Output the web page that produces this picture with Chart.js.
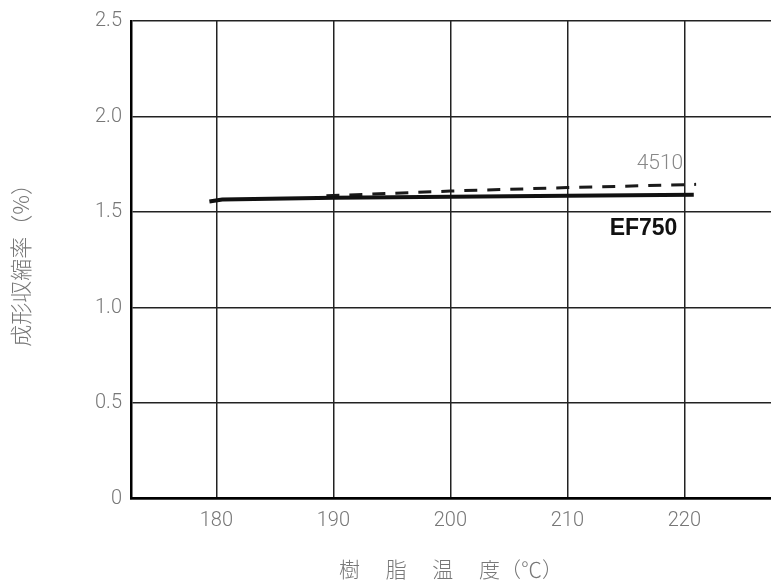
<!DOCTYPE html>
<html>
<head>
<meta charset="utf-8">
<script src="https://cdn.jsdelivr.net/npm/chart.js@4.4.1/dist/chart.umd.min.js"></script>
<style>
  html, body { margin: 0; padding: 0; background: #fff; }
  #wrap { width: 771px; height: 582px; }
</style>
</head>
<body>
<div id="wrap"><canvas id="chart"></canvas></div>
<script>
// resin temperature (°C) vs. mould shrinkage (%)
const ef750Temp = [179.4, 180.5, 190, 200, 210, 220.8];
const ef750Shrink = [1.555, 1.565, 1.575, 1.58, 1.585, 1.59];
const t4510Temp = [189.4, 200, 210, 221.0];
const t4510Shrink = [1.585, 1.61, 1.628, 1.645];
const xTicks = [180, 190, 200, 210, 220];
const yTicks = [0, 0.5, 1.0, 1.5, 2.0, 2.5];

const numFont = { family: 'Roboto, "DejaVu Sans", sans-serif', size: 20, weight: '300' };
const cjkFont = { family: '"Noto Sans CJK JP", sans-serif', size: 21, weight: '300' };

// line name labels placed in data coordinates
const seriesLabels = {
    id: 'seriesLabels',
    afterDatasetsDraw(chart) {
        const { ctx, scales: { x, y } } = chart;
        ctx.save();
        ctx.textAlign = 'right';
        ctx.textBaseline = 'middle';
        ctx.fillStyle = '#888';
        ctx.font = '300 21px Roboto, sans-serif';
        ctx.fillText(chart.data.datasets[1].label, x.getPixelForValue(219.9), y.getPixelForValue(1.752));
        ctx.fillStyle = '#111';
        ctx.font = 'bold 23px "Liberation Sans", Arial, sans-serif';
        ctx.fillText(chart.data.datasets[0].label, x.getPixelForValue(219.4), y.getPixelForValue(1.412));
        ctx.restore();
    }
};

new Chart(document.getElementById('chart'), {
    type: 'scatter',
    data: {
        datasets: [
            {
                label: 'EF750',
                data: ef750Temp.map((t, i) => ({ x: t, y: ef750Shrink[i] })),
                showLine: true,
                borderColor: '#111',
                borderWidth: 4,
                pointRadius: 0,
                tension: 0
            },
            {
                label: '4510',
                data: t4510Temp.map((t, i) => ({ x: t, y: t4510Shrink[i] })),
                showLine: true,
                borderColor: '#1a1a1a',
                borderWidth: 3,
                borderDash: [13, 10],
                pointRadius: 0,
                tension: 0
            }
        ]
    },
    options: {
        responsive: true,
        maintainAspectRatio: false,
        animation: false,
        layout: { padding: { top: 20, right: 0, left: 0, bottom: 0 } },
        plugins: { legend: { display: false }, tooltip: { enabled: false } },
        scales: {
            x: {
                type: 'linear',
                min: 172.7,
                max: 227.4,
                afterBuildTicks: s => { s.ticks = xTicks.map(v => ({ value: v })); },
                afterFit: s => { s.height = 83.4; },
                grid: { color: '#222', lineWidth: 1.5, drawTicks: false },
                border: { color: '#000', width: 2.5 },
                ticks: { color: '#777', font: numFont, padding: 10, maxRotation: 0 },
                title: {
                    display: true,
                    text: '樹　 脂　 温　 度（℃）',
                    color: '#777',
                    font: cjkFont,
                    padding: { top: 0, bottom: 0 }
                }
            },
            y: {
                min: 0,
                max: 2.5,
                afterBuildTicks: s => { s.ticks = yTicks.map(v => ({ value: v })); },
                afterFit: s => { s.width = 131; },
                grid: { color: '#222', lineWidth: 1.5, drawTicks: false },
                border: { color: '#000', width: 2.5 },
                ticks: {
                    color: '#777',
                    font: numFont,
                    padding: 9,
                    callback: v => v === 0 ? '0' : v.toFixed(1)
                },
                title: {
                    display: true,
                    text: '成形収縮率（%）',
                    color: '#777',
                    font: { ...cjkFont, size: 22 },
                    padding: { top: 7, bottom: 0 }
                }
            }
        }
    },
    plugins: [seriesLabels]
});
</script>
</body>
</html>
